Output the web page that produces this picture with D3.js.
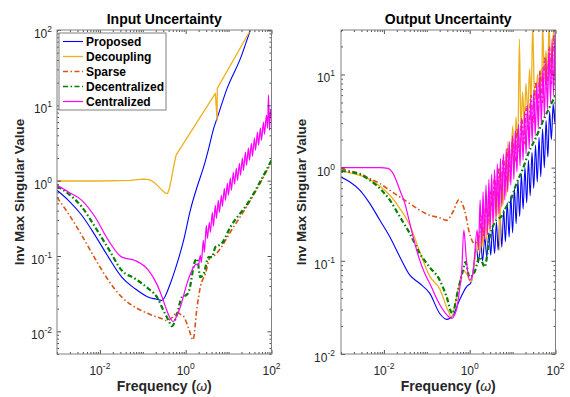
<!DOCTYPE html>
<html lang="en">
<head>
<meta charset="UTF-8">
<title>Input / Output Uncertainty</title>
<script src="https://d3js.org/d3.v7.min.js"></script>
<style>
  body { margin: 0; background: #fff; }
  svg text { font-family: "Liberation Sans", Arial, Helvetica, sans-serif; fill: #262626; }
</style>
</head>
<body>
<svg class="chart" width="570" height="397"></svg>
<script>
// ---- data: [frequency, inverse max singular value] ----
const seriesNames = ['Proposed', 'Decoupling', 'Sparse', 'Decentralized', 'Centralized'];

const inProposed = [[0.001,0.745],[0.00184,0.548],[0.00378,0.347],[0.00773,0.188],[0.0158,0.0966],[0.0324,0.0524],
  [0.0664,0.0367],[0.136,0.0284],[0.2,0.0268],[0.279,0.0257],[0.436,0.0428],[0.627,0.079],[0.893,0.161],[1.28,0.404],
  [1.84,0.824],[2.62,1.52],[3.43,2.67],[4.49,4.93],[5.38,6.7],[9.23,16.8],[18.9,42],[32.4,100],[60,230]];
const inDecoupling = [[0.001,0.99],[0.01,0.99],[0.05,1.01],[0.1,1.05],[0.13,1.04],[0.16,1.0],[0.19,0.93],[0.23,0.84],
  [0.27,0.76],[0.31,0.71],[0.35,0.675],[0.38,0.68],[0.42,0.8],[0.47,1.1],[0.53,1.6],[0.6,2.2],[4.92,14.4],[5.38,6.35],
  [5.45,16.8],[32.4,100],[60,180]];
const inSparse = [[0.001,0.6],[0.00184,0.365],[0.00378,0.188],[0.00773,0.092],[0.0158,0.0474],[0.0324,0.0284],
  [0.0664,0.0209],[0.136,0.0171],[0.279,0.0147],[0.366,0.0139],[0.5,0.0155],[0.627,0.018],[0.75,0.0168],[0.89,0.0158],
  [1.2,0.0105],[1.48,0.0077],[1.84,0.0209],[2.19,0.0386],[2.87,0.058],[3.75,0.0966],[4.5,0.1],[6.4,0.125],[11,0.208],
  [27.5,0.47],[100,1.77]];
const inDecentralized = [[0.001,0.843],[0.00184,0.673],[0.00378,0.448],[0.00773,0.242],[0.0158,0.125],[0.0324,0.0644],
  [0.0664,0.0499],[0.136,0.0367],[0.214,0.0284],[0.304,0.0189],[0.4,0.0139],[0.48,0.0117],[0.627,0.0171],[0.82,0.0284],
  [0.98,0.0297],[1.17,0.0331],[1.67,0.0873],[1.84,0.092],[2.19,0.0524],[2.62,0.058],[3.43,0.0966],[4.1,0.0966],
  [4.9,0.131],[6.9,0.146],[11,0.242],[27.5,0.495],[100,1.87]];
const inCentralized = [[0.001,0.869],[0.00184,0.708],[0.00378,0.548],[0.00773,0.329],[0.0158,0.161],[0.0324,0.0966],
  [0.0664,0.0873],[0.136,0.0644],[0.214,0.042],[0.279,0.029],[0.35,0.02],[0.42,0.0155],[0.51,0.0135],[0.62,0.016],
  [0.75,0.021],[1.07,0.043],[1.53,0.071],[1.75,0.078],[1.97,0.075],
  [2.19,0.102],[2.31,0.082],[2.58,0.161],[2.72,0.112],[3.03,0.255],[3.20,0.171],[3.56,0.280],[3.76,0.206],[4.18,0.380],
  [4.42,0.248],[4.92,0.471],[5.19,0.316],[5.78,0.548],[6.10,0.380],[6.79,0.640],[7.16,0.457],[7.98,0.792],[8.41,0.548],
  [9.38,0.923],[9.89,0.640],[11.0,1.08],[11.6,0.745],[12.9,1.29],[13.7,0.896],[15.2,1.46],[16.1,1.01],[17.9,1.70],
  [18.9,1.18],[21.0,1.99],[22.2,1.37],[24.7,2.39],[26.1,1.60],[29.0,2.70],[30.6,1.87],[34.1,3.14],[36.0,2.11],[40.1,3.66],
  [42.3,2.54],[47.1,4.40],[49.7,2.96],[55.3,4.98],[58.3,3.44],[65.0,5.98],[68.5,4.14],[76.4,7.41],[80.7,4.98],[85.1,13.7],
  [89.8,4.68],[94.8,8.63],[100,6.76]];

const outProposed = [[0.001,0.792],[0.00162,0.701],[0.00277,0.571],[0.00472,0.411],[0.00807,0.272],[0.0138,0.18],
  [0.0236,0.11],[0.0403,0.0701],[0.0687,0.0571],[0.1175,0.0447],[0.2,0.0272],[0.29,0.0235],[0.41,0.0261],[0.58,0.0379],
  [0.84,0.0525],[1.09,0.0594],[1.25,0.09],
  [1.43,0.14],[1.6,0.095],[1.8,0.16],[2.0,0.10],[2.25,0.18],[2.5,0.11],[2.8,0.2],[3.1,0.115],[3.4,0.23],[3.8,0.12],
  [4.2,0.26],[4.6,0.13],[5.1,0.3],[5.6,0.14],[6.2,0.35],[6.8,0.16],[7.5,0.42],[8.3,0.18],[9.1,0.5],[10,0.2],[11,0.6],
  [12.1,0.25],[13.3,0.72],[14.6,0.3],[16,0.85],[17.6,0.36],[19.4,1.0],[21.3,0.42],[23.4,1.2],[25.7,0.5],[28.3,1.45],
  [31.1,0.6],[34.2,1.75],[37.6,0.7],[41.3,2.1],[45.4,0.8],[49.9,2.6],[54.9,1.0],[60.3,3.2],[66.3,1.3],[72.9,4.0],
  [80.1,2.0],[88.1,4.8],[96.8,3.0],[100,5.6]];
const outDecoupling = [[0.001,0.936],[0.00162,0.88],[0.00277,0.826],[0.00472,0.743],[0.00807,0.63],[0.0138,0.505],
  [0.0236,0.364],[0.0403,0.241],[0.0687,0.125],[0.1175,0.068],[0.2,0.05],[0.31,0.0296],[0.375,0.025],[0.535,0.0484],
  [0.7,0.0794],[0.84,0.073],[1.09,0.0594],[1.25,0.09],
  [1.43,0.13],[1.6,0.2],[1.75,0.12],[1.9,0.25],[2.05,0.14],[2.25,0.35],[2.45,0.16],[2.7,0.5],[2.95,0.2],[3.25,0.6],
  [3.55,0.25],[3.9,0.7],[4.3,0.3],[4.7,0.8],[5.0,0.13],[5.4,0.9],[6.0,0.4],[6.6,1.0],[7.1,0.5],[7.8,1.9],[8.5,0.7],
  [9.3,1.3],[10.1,2.8],[11,1.0],[12,3.5],[13.2,1.6],[14.4,24],[15.6,2.5],[17.1,6.5],[18.7,3],[20.5,8],[22.6,3.8],
  [24.9,11.5],[27,5],[29.4,35],[32,7],[35,5.5],[38,10],[42,6.5],[46,11.5],[48,8],[50,35],[55,9],[60,18],[65,9],
  [71,35],[77,11],[85,14],[92,35],[100,35]];
const outSparse = [[0.001,0.975],[0.00162,0.92],[0.00277,0.863],[0.00472,0.763],[0.00807,0.674],[0.0138,0.571],
  [0.0236,0.484],[0.0403,0.411],[0.0687,0.349],[0.1175,0.308],[0.2,0.29],[0.287,0.272],[0.4,0.33],[0.56,0.45],
  [0.76,0.349],[0.995,0.196],[1.3,0.153],[1.71,0.196],
  [1.9,0.3],[2.1,0.18],[2.4,0.4],[2.7,0.25],[3.0,0.55],[3.4,0.35],[3.8,0.8],[4.3,0.45],[4.8,1.0],[5.4,0.55],[6.1,1.3],
  [6.9,0.7],[7.8,1.6],[8.8,0.9],[10,2.0],[11.3,1.1],[12.8,2.6],[14.5,1.4],[16.4,3.3],[18.5,1.8],[21,4.5],[23.7,2.3],
  [26.8,6],[30.3,3],[34.3,8],[38.8,3.8],[43.8,11],[49.5,5],[56,15],[63.3,6.5],[71.6,20],[80.9,8],[91.5,27],[100,12]];
const outDecentralized = [[0.001,0.92],[0.00277,0.848],[0.00472,0.731],[0.00807,0.596],[0.0138,0.447],[0.0236,0.296],
  [0.0403,0.196],[0.0687,0.12],[0.1175,0.085],[0.2,0.062],[0.29,0.041],[0.39,0.0272],[0.535,0.0484],[0.7,0.0794],
  [0.79,0.097],[0.995,0.067],[1.3,0.076],[1.71,0.11],[2.23,0.086],[2.93,0.18],[4.12,0.272],[5.5,0.3],[7.1,0.378],
  [9,0.45],[12.3,0.674],[17,0.95],[24.9,1.53],[35,2.1],[50,3.1],[70,4.3],[100,5.96]];
const outCentralized = [[0.001,1.0],[0.0081,1.0],[0.0125,0.98],[0.0155,0.9],[0.0181,0.79],[0.0236,0.571],[0.0309,0.411],
  [0.0403,0.251],[0.0527,0.153],[0.0687,0.101],[0.0898,0.073],[0.1175,0.057],[0.2,0.034],[0.3,0.026],[0.375,0.0241],
  [0.49,0.0296],[0.6,0.055],[0.64,0.0672],[0.73,0.213],[0.84,0.101],[0.995,0.062],[1.19,0.073],[1.49,0.213],[1.6,0.13],
  [1.75,0.45],[1.9,0.15],[2.05,0.55],[2.2,0.17],[2.4,0.65],[2.6,0.19],[2.8,0.75],[3.0,0.22],[3.25,0.85],[3.5,0.25],
  [3.8,0.95],[4.1,0.28],[4.4,1.1],[4.8,0.32],[5.2,1.25],[5.6,0.38],[6.1,1.4],[6.6,0.45],[7.1,1.6],[7.7,0.55],[8.4,1.9],
  [9.1,0.65],[9.9,2.2],[10.7,0.75],[11.6,2.5],[12.6,0.9],[13.7,2.9],[14.9,1.05],[16.1,3.4],[17.5,1.2],[19,4.0],
  [20.6,1.4],[22.4,4.7],[24.3,1.6],[26.4,5.6],[28.6,1.9],[31.1,6.8],[33.7,2.2],[36.6,8.2],[39.7,2.6],[43.1,10],
  [46.8,3.0],[50.8,12],[55.2,3.5],[59.9,15],[65,4.2],[70.6,19],[76.6,5],[83.2,24],[90.3,6],[98,30],[100,8]];

const freqDomain = [1e-3, 1e2];
const xLabelTicks = [1e-2, 1, 1e2];
const inYTicks = [1e-2, 1e-1, 1, 10, 100];
const outYTicks = [1e-2, 1e-1, 1, 10];

// ---- styles ----
const styles = [
  { color: '#0000ff', width: 1.1, dash: null },
  { color: '#edb120', width: 1.3, dash: null },
  { color: '#d95319', width: 1.6, dash: '5,2.5,1.5,2.5' },
  { color: '#008000', width: 2.2, dash: '5,2.5,1.5,2.5' },
  { color: '#ff00ff', width: 1.2, dash: null }
];

const panels = [
  { title: 'Input Uncertainty', x0: 57, x1: 271.5, y0: 30, y1: 354, yDomain: [0.005, 100], yTicks: inYTicks,
    labelX: 24, tickLabelX: 52, series: [inProposed, inDecoupling, inSparse, inDecentralized, inCentralized],
    straight: [1], legend: true },
  { title: 'Output Uncertainty', x0: 341, x1: 555.5, y0: 30, y1: 354, yDomain: [0.01, 30], yTicks: outYTicks,
    labelX: 306, tickLabelX: 335, series: [outProposed, outDecoupling, outSparse, outDecentralized, outCentralized],
    straight: [], legend: false }
];

const svg = d3.select('svg.chart');

function tickGroup(g, axis) {
  g.call(axis);
  g.select('.domain').remove();
  g.selectAll('text').remove();
  g.selectAll('line').attr('stroke', '#262626').attr('stroke-width', 0.8);
}

function powLabel(t, v) {
  t.append('tspan').text('10');
  t.append('tspan').attr('dy', -6).attr('font-size', 8.5).text(Math.round(Math.log10(v)));
}

panels.forEach((p, pi) => {
  const x = d3.scaleLog().domain(freqDomain).range([p.x0, p.x1]);
  const y = d3.scaleLog().domain(p.yDomain).range([p.y1, p.y0]);

  svg.append('clipPath').attr('id', 'clip' + pi).append('rect')
    .attr('x', p.x0).attr('y', p.y0).attr('width', p.x1 - p.x0).attr('height', p.y1 - p.y0);

  const plot = svg.append('g').attr('clip-path', `url(#clip${pi})`);

  p.series.forEach((s, i) => {
    const line = d3.line().x(d => x(d[0])).y(d => y(d[1]))
      .curve(p.straight.includes(i) ? d3.curveLinear : d3.curveMonotoneX);
    plot.append('path').datum(s)
      .attr('d', line)
      .attr('fill', 'none')
      .attr('stroke', styles[i].color)
      .attr('stroke-width', styles[i].width)
      .attr('stroke-dasharray', styles[i].dash)
      .attr('stroke-linejoin', 'round');
  });

  // ticks, all pointing inward
  const xMinor = x.ticks().filter(v => !xLabelTicks.includes(v));
  const yMinor = y.ticks().filter(v => !p.yTicks.some(t => Math.abs(t - v) / t < 1e-9));

  tickGroup(svg.append('g').attr('transform', `translate(0,${p.y1})`),
    d3.axisBottom(x).tickValues(xMinor).tickSize(-2).tickSizeOuter(0).tickFormat(''));
  tickGroup(svg.append('g').attr('transform', `translate(0,${p.y1})`),
    d3.axisBottom(x).tickValues(xLabelTicks).tickSize(-4).tickSizeOuter(0).tickFormat(''));
  tickGroup(svg.append('g').attr('transform', `translate(0,${p.y0})`),
    d3.axisTop(x).tickValues(xMinor).tickSize(-2).tickSizeOuter(0).tickFormat(''));
  tickGroup(svg.append('g').attr('transform', `translate(0,${p.y0})`),
    d3.axisTop(x).tickValues(xLabelTicks).tickSize(-4).tickSizeOuter(0).tickFormat(''));
  tickGroup(svg.append('g').attr('transform', `translate(${p.x0},0)`),
    d3.axisLeft(y).tickValues(yMinor).tickSize(-2).tickSizeOuter(0).tickFormat(''));
  tickGroup(svg.append('g').attr('transform', `translate(${p.x0},0)`),
    d3.axisLeft(y).tickValues(p.yTicks).tickSize(-4).tickSizeOuter(0).tickFormat(''));
  tickGroup(svg.append('g').attr('transform', `translate(${p.x1},0)`),
    d3.axisRight(y).tickValues(yMinor).tickSize(-2).tickSizeOuter(0).tickFormat(''));
  tickGroup(svg.append('g').attr('transform', `translate(${p.x1},0)`),
    d3.axisRight(y).tickValues(p.yTicks).tickSize(-4).tickSizeOuter(0).tickFormat(''));

  svg.append('rect')
    .attr('x', p.x0).attr('y', p.y0).attr('width', p.x1 - p.x0).attr('height', p.y1 - p.y0)
    .attr('fill', 'none').attr('stroke', '#808080').attr('stroke-width', 1);

  // tick labels
  p.yTicks.forEach(v => {
    const t = svg.append('text').attr('x', p.tickLabelX).attr('y', y(v) + 8)
      .attr('text-anchor', 'end').attr('font-size', 12);
    powLabel(t, v);
  });
  xLabelTicks.forEach(v => {
    const t = svg.append('text').attr('x', x(v)).attr('y', 375)
      .attr('text-anchor', 'middle').attr('font-size', 12);
    powLabel(t, v);
  });

  // titles and axis labels
  const cx = (p.x0 + p.x1) / 2;
  svg.append('text').attr('x', cx).attr('y', 24).attr('text-anchor', 'middle')
    .attr('font-size', 14).attr('font-weight', 'bold').style('fill', '#000').text(p.title);

  const xl = svg.append('text').attr('x', cx).attr('y', 391).attr('text-anchor', 'middle')
    .attr('font-size', 14).attr('font-weight', 'bold');
  xl.append('tspan').text('Frequency (');
  xl.append('tspan').attr('font-weight', 'normal').attr('font-style', 'italic').text('ω');
  xl.append('tspan').text(')');

  svg.append('text')
    .attr('transform', `translate(${p.labelX},${(p.y0 + p.y1) / 2}) rotate(-90)`)
    .attr('text-anchor', 'middle').attr('font-size', 13.5).attr('font-weight', 'bold')
    .text('Inv Max Singular Value');

  if (p.legend) {
    const lg = svg.append('g');
    lg.append('rect').attr('x', 59).attr('y', 33).attr('width', 107).attr('height', 77)
      .attr('fill', '#fff').attr('stroke', '#808080').attr('stroke-width', 1);
    seriesNames.forEach((name, i) => {
      const ly = 41.5 + i * 15;
      lg.append('line').attr('x1', 63).attr('x2', 83).attr('y1', ly).attr('y2', ly)
        .attr('stroke', styles[i].color).attr('stroke-width', Math.min(styles[i].width, 1.6))
        .attr('stroke-dasharray', styles[i].dash);
      lg.append('text').attr('x', 86).attr('y', ly + 4.3)
        .attr('font-size', 12).attr('font-weight', 'bold').style('fill', '#000').text(name);
    });
  }
});
</script>
</body>
</html>
